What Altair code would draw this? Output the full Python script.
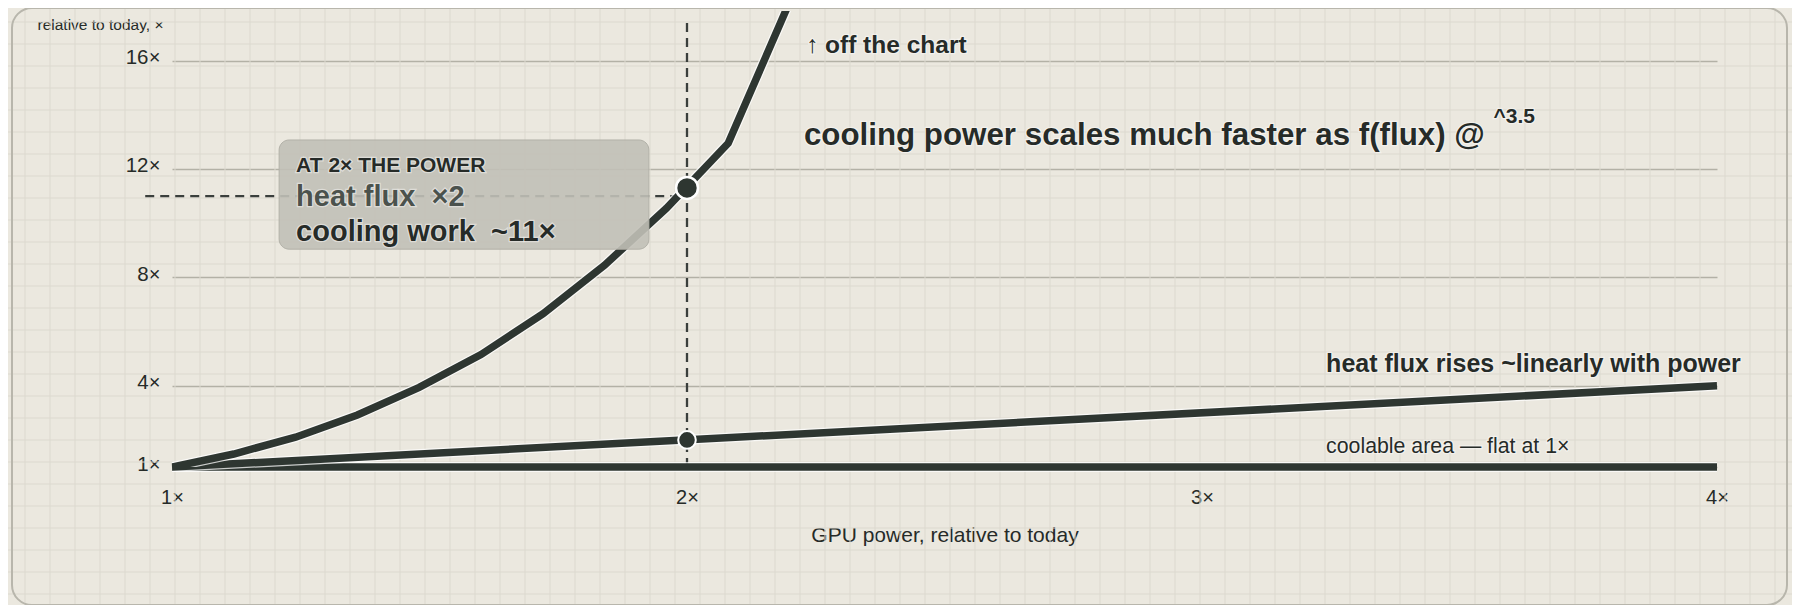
import altair as alt
import pandas as pd

# ---------------- data ----------------
power = [1.00, 1.12, 1.24, 1.36, 1.48, 1.60, 1.72, 1.84, 1.96, 2.08, 2.20]
cooling_work = [1.00, 1.48, 2.10, 2.92, 3.94, 5.15, 6.65, 8.45, 10.55, 12.95, 18.2]

flux_power = [1, 4]
heat_flux = [1, 4]

area_power = [1, 4]
coolable_area = [1, 1]

cool_marker = {"x": [2.0], "y": [11.3]}
flux_marker = {"x": [2.0], "y": [2.0]}

x_ticks = [1, 2, 3, 4]
y_ticks = [1, 4, 8, 12, 16]

x_title = "GPU power, relative to today"
y_title = "relative to today, ×"

# guide lines (data units)
vguide = {"x": [2.0], "y": [1.0], "y2": [17.55]}
hguide = {"x": [0.948], "x2": [2.0], "y": [11.0]}

# annotation box (data units) and its texts
box = {"x": [1.208], "x2": [1.926], "y": [9.04], "y2": [13.07]}
box_head = {"text": ["AT 2× THE POWER"], "x": [1.241], "y": [11.87]}
box_flux = {"text": ["heat flux\u00a0\u00a0×2"], "x": [1.241], "y": [10.63]}
box_cool = {"text": ["cooling work\u00a0\u00a0~11×"], "x": [1.241], "y": [9.35]}

off_note = {"text": ["↑ off the chart"], "x": [2.231], "y": [16.28]}
headline = {"text": ["cooling power scales much faster as f(flux) @"], "x": [2.227], "y": [12.88]}
exponent = {"text": ["^3.5"], "x": [3.566], "y": [13.7]}
flux_note = {"text": ["heat flux rises ~linearly with power"], "x": [3.241], "y": [4.51]}
area_note = {"text": ["coolable area — flat at 1×"], "x": [3.241], "y": [1.52]}

# ---------------- styling ----------------
FONT = "Liberation Sans"
BG = "#ebe8df"
PAPER = "#dcd9cf"
FRAME = "#b8b6ac"
DARK = "#2e3631"
INK = "#262b28"
GRID = "#b3b1a6"

W, H = 1545, 456
X_DOM = [1, 4]
Y_DOM = [1, 17.83]
xs = alt.Scale(domain=X_DOM, nice=False, zero=False)
ys = alt.Scale(domain=Y_DOM, nice=False, zero=False)

x_axis = alt.Axis(
    values=x_ticks, labelExpr="datum.value + '×'", grid=False, domain=False, ticks=False,
    labelFontSize=20, labelColor=INK, labelPadding=20, labelFont=FONT, labelFlush=False,
    title=x_title, titleFontSize=21, titleFontWeight="normal", titleColor=INK,
    titleFont=FONT, titleY=74, titleBaseline="alphabetic",
)
y_axis = alt.Axis(
    values=y_ticks, labelExpr="datum.value + '×'", grid=True, gridColor=GRID, gridWidth=1.6,
    domain=False, ticks=False, labelFontSize=20.5, labelColor=INK, labelPadding=12,
    labelFont=FONT, labelOffset=-3, labelFlush=False,
    title=y_title, titleFontSize=15.5, titleFontWeight="normal", titleColor=INK,
    titleFont=FONT, titleAngle=0, titleAlign="left", titleBaseline="alphabetic",
    titleX=-135, titleY=18,
)


def X(field="x"):
    return alt.X(f"{field}:Q", scale=xs, axis=x_axis)


def Y(field="y"):
    return alt.Y(f"{field}:Q", scale=ys, axis=y_axis)


# graph-paper background (25 px columns, 22 px rows on the page), expressed in data units
x_per_px = (X_DOM[1] - X_DOM[0]) / W
y_per_px = (Y_DOM[1] - Y_DOM[0]) / H
paper_v = (
    alt.Chart(alt.sequence(0, 73, as_="k"))
    .transform_calculate(gx=f"1 + (datum.k * 25 - 172) * {x_per_px}")
    .mark_rule(color=PAPER, strokeWidth=1)
    .encode(x=X("gx"), y=alt.value(-12), y2=alt.value(600))
)
paper_h = (
    alt.Chart(alt.sequence(0, 29, as_="k"))
    .transform_calculate(gy=f"1 + (467 - datum.k * 22) * {y_per_px}")
    .mark_rule(color=PAPER, strokeWidth=1)
    .encode(y=Y("gy"), x=alt.value(-180), x2=alt.value(1640))
)

frame = (
    alt.Chart(alt.Data(values=[{}]))
    .mark_rect(fill="transparent", stroke=FRAME, strokeWidth=2, cornerRadius=20)
    .encode(x=alt.value(-160), x2=alt.value(1615), y=alt.value(-3), y2=alt.value(594))
)

area_df = pd.DataFrame({"x": area_power, "y": coolable_area})
flux_df = pd.DataFrame({"x": flux_power, "y": heat_flux})
cool_df = pd.DataFrame({"x": power, "y": cooling_work})

vdash = alt.Chart(pd.DataFrame(vguide)).mark_rule(
    color="#3a3f3c", strokeWidth=2.3, strokeDash=[9, 6]
).encode(x=X(), y=Y(), y2="y2:Q")
hdash = alt.Chart(pd.DataFrame(hguide)).mark_rule(
    color="#3a3f3c", strokeWidth=2.3, strokeDash=[9, 6]
).encode(x=X(), x2="x2:Q", y=Y())


def series(df, clip=False):
    base = alt.Chart(df).encode(x=X(), y=Y(), order="x:Q")
    halo = base.mark_line(color="#ffffff", opacity=0.75, strokeWidth=10, strokeCap="butt", clip=clip)
    core = base.mark_line(color=DARK, strokeWidth=7.5, strokeCap="butt", clip=clip)
    return [halo, core]


dot_big = alt.Chart(pd.DataFrame(cool_marker)).mark_circle(
    size=480, fill=DARK, stroke="#ffffff", strokeWidth=2.5, opacity=1
).encode(x=X(), y=Y())
dot_small = alt.Chart(pd.DataFrame(flux_marker)).mark_circle(
    size=310, fill=DARK, stroke="#ffffff", strokeWidth=2, opacity=1
).encode(x=X(), y=Y())

box_rect = alt.Chart(pd.DataFrame(box)).mark_rect(
    fill="#c1c0b7", fillOpacity=0.9, stroke="#b2b1a8", strokeWidth=1, cornerRadius=10
).encode(x=X(), x2="x2:Q", y=Y(), y2="y2:Q")


def label(d, size, weight="bold", color=INK):
    base = alt.Chart(pd.DataFrame(d)).encode(x=X(), y=Y(), text="text:N")
    common = dict(align="left", baseline="alphabetic", font=FONT, fontSize=size, fontWeight=weight)
    glow = base.mark_text(color="#ffffff", stroke="#ffffff", strokeWidth=2.5, strokeOpacity=0.55,
                          opacity=0.8, **common)
    ink = base.mark_text(color=color, **common)
    return [glow, ink]


texts = (
    label(box_head, 21)
    + label(box_flux, 29, color="#4b524d")
    + label(box_cool, 29)
    + label(off_note, 24.5)
    + label(headline, 31.3)
    + label(exponent, 21)
    + label(flux_note, 25)
    + label(area_note, 21.3, weight="normal")
)

layers = (
    [paper_v, paper_h, frame, vdash, hdash]
    + series(area_df) + series(flux_df) + series(cool_df, clip=True)
    + [dot_small, dot_big, box_rect] + texts
)

chart = alt.layer(*layers).properties(
    width=W, height=H,
    autosize=alt.AutoSizeParams(type="none"),
    padding={"left": 164, "top": 3, "right": 75, "bottom": 138},
).configure(
    background=BG, font=FONT,
).configure_view(stroke=None)

chart.save("out.html", embed_options={"renderer": "svg", "actions": False})
